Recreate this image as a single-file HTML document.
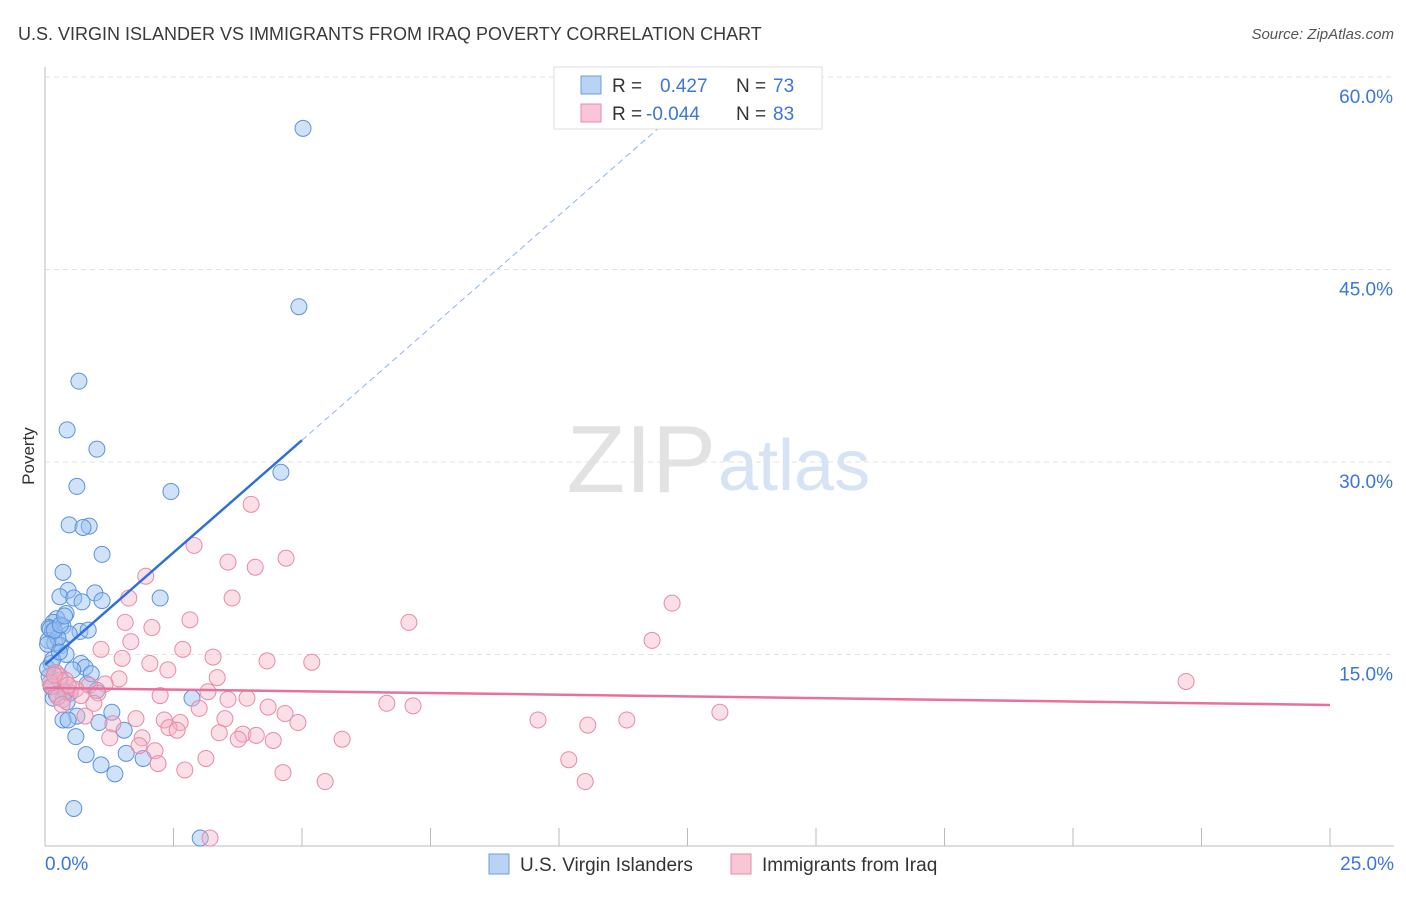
<!DOCTYPE html>
<html><head><meta charset="utf-8"><style>
body{margin:0;background:#fff;font-family:"Liberation Sans",sans-serif}
svg text{font-family:"Liberation Sans",sans-serif}
</style></head><body>
<svg id="chart" width="1406" height="892">
<text x="18" y="40" font-size="18" fill="#3a3a3a">U.S. VIRGIN ISLANDER VS IMMIGRANTS FROM IRAQ POVERTY CORRELATION CHART</text>
<text x="1394" y="39" font-size="15" fill="#555" text-anchor="end" font-style="italic">Source: ZipAtlas.com</text>
<text x="34" y="456" font-size="17" fill="#333" text-anchor="middle" transform="rotate(-90 34 456)">Poverty</text>
<text x="716" y="492" font-size="96" fill="#e2e2e2" text-anchor="end" font-family="Liberation Serif">ZIP</text>
<text x="718" y="490" font-size="72" fill="#d5e3f5">atlas</text>
<g id="grid"></g>
<g id="pts"></g>
<g id="trends"></g>
<g>
<rect x="554" y="67" width="268" height="62" fill="#fff" stroke="#ddd"/>
<rect x="581" y="76" width="20" height="18" fill="#b9d3f5" stroke="#6a9ee0"/>
<text x="612" y="92" font-size="19" fill="#333">R =</text>
<text x="660" y="92" font-size="19" fill="#3b76d8">0.427</text>
<text x="736" y="92" font-size="19" fill="#333">N =</text>
<text x="773" y="92" font-size="19" fill="#3b76d8">73</text>
<rect x="581" y="104" width="20" height="18" fill="#f8c6d4" stroke="#e88aa8"/>
<text x="612" y="120" font-size="19" fill="#333">R =</text>
<text x="646" y="120" font-size="19" fill="#3b76d8">-0.044</text>
<text x="736" y="120" font-size="19" fill="#333">N =</text>
<text x="773" y="120" font-size="19" fill="#3b76d8">83</text>
</g>
<g>
<rect x="489" y="854" width="20" height="20" fill="#b9d3f5" stroke="#6a9ee0"/>
<text x="520" y="871" font-size="19" fill="#333">U.S. Virgin Islanders</text>
<rect x="731" y="854" width="20" height="20" fill="#f8c6d4" stroke="#e88aa8"/>
<text x="762" y="871" font-size="19" fill="#333">Immigrants from Iraq</text>
</g>
</svg>
<script>
const xTicks=[0,2.5,5,7.5,10,12.5,15,17.5,20,22.5,25];
const yTicks=[15,30,45,60];
const blueX=[5.02,4.94,0.66,0.43,1.01,0.62,2.45,4.59,0.47,0.86,0.74,1.11,0.35,0.45,0.97,0.29,0.56,1.11,0.72,2.24,0.41,0.23,0.16,0.35,0.08,0.14,0.68,0.84,0.47,0.06,0.19,0.31,0.41,0.12,0.70,0.78,0.54,0.21,0.08,0.29,0.82,1.01,0.49,0.16,2.86,0.43,1.30,0.62,0.35,0.45,1.05,1.54,0.60,0.80,1.58,1.91,1.09,1.36,0.56,3.02,0.10,0.25,0.05,0.18,0.30,0.12,0.40,0.22,0.05,0.15,0.28,0.9,0.38];
const blueY=[56.0,42.1,36.3,32.5,31.0,28.1,27.7,29.2,25.1,25.0,24.9,22.8,21.4,20.0,19.8,19.5,19.4,19.2,19.1,19.4,18.2,17.8,17.5,17.2,17.1,16.8,16.8,16.9,16.6,16.1,15.9,15.7,15.0,14.3,14.3,14.0,13.8,13.6,13.3,13.0,12.7,12.2,12.0,11.6,11.6,11.3,10.5,10.2,9.9,9.9,9.7,9.1,8.6,7.2,7.3,6.9,6.4,5.7,3.0,0.7,17.0,16.3,15.8,16.9,17.3,12.5,12.1,11.9,13.9,14.6,15.2,13.5,18.0];
const pinkX=[4.01,2.90,4.69,3.56,4.09,1.96,3.64,1.63,12.20,7.08,2.82,1.56,2.08,1.67,11.81,2.68,1.09,3.27,1.50,4.32,5.19,2.04,2.39,0.21,0.29,3.35,1.44,22.20,1.17,0.86,0.14,0.51,3.17,1.03,2.24,3.93,3.56,0.35,0.95,6.65,7.16,3.00,4.34,4.67,13.13,0.78,1.77,2.32,3.50,9.59,11.32,4.92,1.32,2.63,10.56,2.41,2.57,3.39,3.85,4.11,1.26,1.89,3.76,5.78,4.44,1.83,2.14,3.13,2.20,10.19,2.72,4.63,5.45,10.51,3.21,0.10,0.40,0.25,0.60,0.18,0.33,0.45,0.7];
const pinkY=[26.7,23.5,22.5,22.2,21.8,21.1,19.4,19.4,19.0,17.5,17.7,17.5,17.1,16.0,16.1,15.4,15.4,14.8,14.7,14.5,14.4,14.3,13.8,13.6,13.3,13.2,13.1,12.9,12.7,12.6,12.5,12.4,12.1,12.0,11.8,11.6,11.5,11.5,11.2,11.2,11.0,10.8,10.9,10.4,10.5,10.2,10.0,9.9,10.0,9.9,9.9,9.7,9.6,9.7,9.5,9.3,9.1,8.9,8.8,8.7,8.5,8.5,8.4,8.4,8.3,7.9,7.5,6.9,6.5,6.8,6.0,5.8,5.1,5.1,0.7,12.8,13.0,11.7,12.3,13.4,11.1,12.6,11.8];
const blueTrendX=[0,5.0,11.96];
const blueTrendY=[14.2,31.7,56.1];
const pinkTrendX=[0,25];
const pinkTrendY=[12.4,11.07];
const NS='http://www.w3.org/2000/svg';
const X=v=>45+v/25*1285;
const Y=v=>847-v*12.833;
function mk(tag,attrs,parent){const e=document.createElementNS(NS,tag);for(const k in attrs)e.setAttribute(k,attrs[k]);parent.appendChild(e);return e;}
const grid=document.getElementById('grid');
yTicks.forEach(t=>{
 const l=mk('line',{x1:45,x2:1394,y1:Y(t),y2:Y(t),stroke:'#e2e2e2','stroke-dasharray':'5,4'},grid);
 
 
 const tx=mk('text',{x:1393,y:Y(t)+26,'font-size':19,fill:'#3b76d8','text-anchor':'end'},grid);
 tx.textContent=t.toFixed(1)+'%';
 
 
});
mk('line',{x1:45,x2:45,y1:67,y2:846,stroke:'#bbb'},grid);
mk('line',{x1:45,x2:1394,y1:846,y2:846,stroke:'#bbb'},grid);
xTicks.forEach(t=>{
 const l=mk('line',{x1:X(t),x2:X(t),y1:828,y2:846,stroke:'#bbb'},grid);
 
 
});
[[0,'0.0%','start',45],[25,'25.0%','end',1394]].forEach(a=>{
 const tx=mk('text',{x:a[3],y:870,'font-size':19,fill:'#3b76d8','text-anchor':a[2]},grid);
 tx.textContent=a[1];
 
 
});
const pts=document.getElementById('pts');
blueX.forEach((v,i)=>{
 const c=mk('circle',{cx:X(v),cy:Y(blueY[i]),r:8,fill:'rgba(150,190,240,0.45)',stroke:'#5b92dc','stroke-width':1},pts);
 
 
});
pinkX.forEach((v,i)=>{
 const c=mk('circle',{cx:X(v),cy:Y(pinkY[i]),r:8,fill:'rgba(245,175,195,0.4)',stroke:'#e88aa8','stroke-width':1},pts);
 
 
});
const tr=document.getElementById('trends');
const b1=mk('line',{x1:X(blueTrendX[0]),y1:Y(blueTrendY[0]),x2:X(blueTrendX[1]),y2:Y(blueTrendY[1]),stroke:'#2f6fdb','stroke-width':2.5},tr);


const b2=mk('line',{x1:X(blueTrendX[1]),y1:Y(blueTrendY[1]),x2:X(blueTrendX[2]),y2:Y(blueTrendY[2]),stroke:'#8fb2e8','stroke-width':1,'stroke-dasharray':'6,4'},tr);


const p1=mk('line',{x1:X(pinkTrendX[0]),y1:Y(pinkTrendY[0]),x2:X(pinkTrendX[1]),y2:Y(pinkTrendY[1]),stroke:'#e8709a','stroke-width':2.5},tr);


</script>
</body></html>
